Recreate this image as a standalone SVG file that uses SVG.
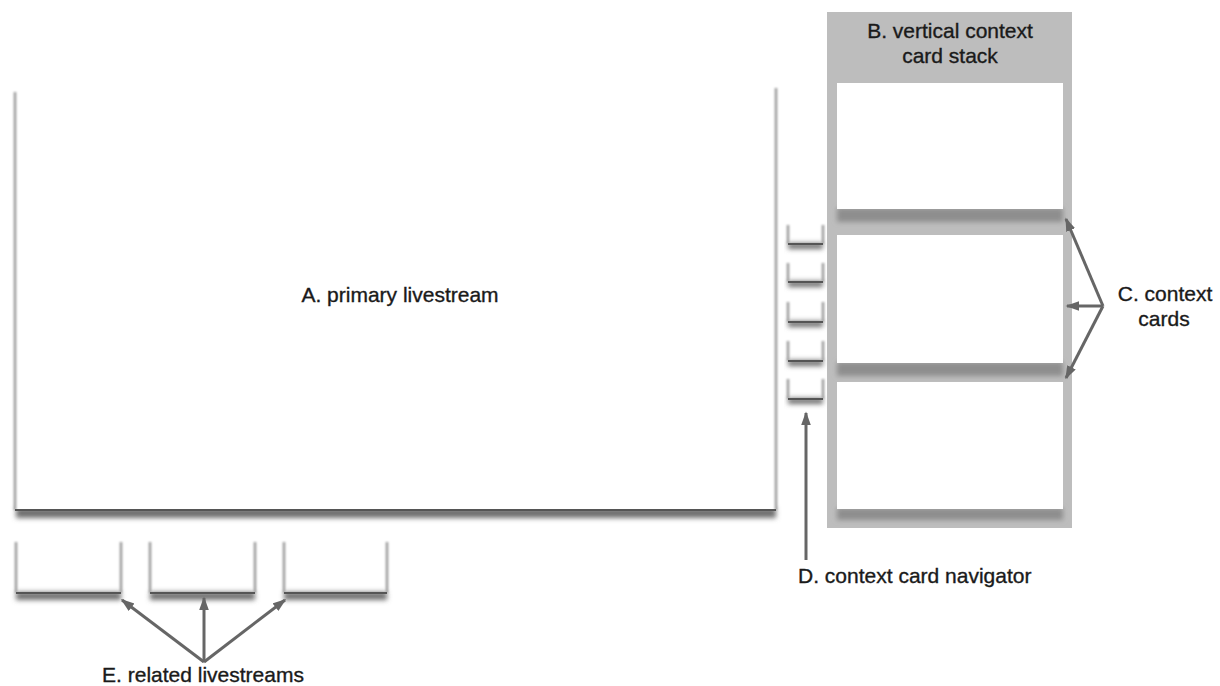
<svg xmlns="http://www.w3.org/2000/svg" width="1220" height="686" viewBox="0 0 1220 686">
<style>
  .lbl { font-family: "Liberation Sans", Arial, sans-serif; font-size: 21px; fill: #1a1a1a; stroke: #1a1a1a; stroke-width: 0.35; }
  .edge { stroke: #9a9a9a; stroke-width: 2.5; fill: none; filter: url(#soft); }
  .bot { stroke: #555; stroke-width: 2; fill: none; }
  .shadow { fill: #707070; filter: url(#blur); }
  .card { fill: #ffffff; }
  .arrow { stroke: #666; stroke-width: 3; fill: none; marker-end: url(#ah); }
</style>
<defs>
  <filter id="blur" x="-10%" y="-100%" width="120%" height="300%"><feGaussianBlur stdDeviation="2.5"/></filter>
  <filter id="soft" x="-50%" y="-10%" width="200%" height="120%"><feGaussianBlur stdDeviation="0.8"/></filter>
  <marker id="ah" markerWidth="5" markerHeight="4" refX="4" refY="1.6" orient="auto" markerUnits="strokeWidth">
    <path d="M0,0 L4.5,1.6 L0,3.2 Z" fill="#666"/>
  </marker>
</defs>
<rect width="1220" height="686" fill="#ffffff"/>

<g id="A-primary">
  <rect class="shadow" x="16" y="508" width="760" height="10"/>
  <rect class="card" x="15" y="90" width="761" height="420"/>
  <path class="edge" d="M15,92 V510 M776,88 V510"/>
  <path class="bot" d="M15,510 H776"/>
  <text class="lbl" x="400" y="302" text-anchor="middle">A. primary livestream</text>
</g>

<g id="B-stack">
  <rect x="827" y="12" width="245" height="516" fill="#bdbdbd"/>
  <text class="lbl" x="950" y="38" text-anchor="middle">B. vertical context</text>
  <text class="lbl" x="950" y="63" text-anchor="middle">card stack</text>
</g>

<g id="C-cards">
  <rect x="837" y="208" width="226" height="14" fill="#8e8e8e" filter="url(#blur)"/>
  <rect class="card" x="837" y="83" width="226" height="126"/>
  <rect x="837" y="362" width="226" height="14" fill="#8e8e8e" filter="url(#blur)"/>
  <rect class="card" x="837" y="235" width="226" height="128"/>
  <rect x="837" y="508" width="226" height="12" fill="#8e8e8e" filter="url(#blur)"/>
  <rect class="card" x="837" y="382" width="226" height="127"/>
  <text class="lbl" x="1165" y="301" text-anchor="middle">C. context</text>
  <text class="lbl" x="1164" y="326" text-anchor="middle">cards</text>
</g>

<g id="D-navigator">
  <rect class="shadow" x="788" y="243" width="35" height="6"/>
  <rect class="shadow" x="788" y="281" width="35" height="6"/>
  <rect class="shadow" x="788" y="321" width="35" height="6"/>
  <rect class="shadow" x="788" y="360" width="35" height="6"/>
  <rect class="shadow" x="788" y="398" width="35" height="6"/>
  <path class="edge" d="M788,225 V244 M823,225 V244 M788,263 V282 M823,263 V282 M788,302 V322 M823,302 V322 M788,341 V361 M823,341 V361 M788,379 V399 M823,379 V399"/>
  <path class="bot" d="M788,244 H823 M788,282 H823 M788,322 H823 M788,361 H823 M788,399 H823"/>
  <text class="lbl" x="798" y="583">D. context card navigator</text>
</g>

<g id="E-related">
  <rect class="shadow" x="16" y="592" width="105" height="8"/>
  <rect class="shadow" x="150" y="592" width="105" height="8"/>
  <rect class="shadow" x="284" y="592" width="103" height="8"/>
  <path class="edge" d="M16,542 V593 M121,542 V593 M150,542 V593 M255,542 V593 M284,542 V593 M387,542 V593"/>
  <path class="bot" d="M16,593 H121 M150,593 H255 M284,593 H387"/>
  <text class="lbl" x="203" y="682" text-anchor="middle">E. related livestreams</text>
</g>

<g id="connectors">
  <path class="arrow" d="M1103,306 L1066,219"/>
  <path class="arrow" d="M1103,306 L1067,306"/>
  <path class="arrow" d="M1103,306 L1066,378"/>
  <path class="arrow" d="M806,560 L806,413"/>
  <path class="arrow" d="M204,662 L122,600"/>
  <path class="arrow" d="M204,662 L204,598"/>
  <path class="arrow" d="M204,662 L285,600"/>
</g>
</svg>
